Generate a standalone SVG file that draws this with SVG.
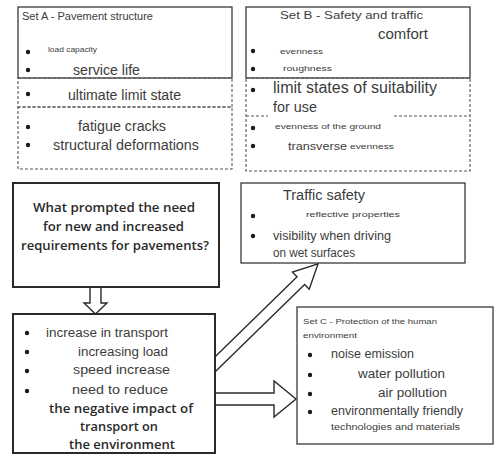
<svg xmlns="http://www.w3.org/2000/svg" width="497" height="456" viewBox="0 0 497 456">
<style>
.box{fill:#fff;stroke:#3a3a3a;stroke-width:1.3}
.thick{fill:#fff;stroke:#2a2a2a;stroke-width:2}
.dash{fill:none;stroke:#555;stroke-width:1.1;stroke-dasharray:3 2}
.t{font-family:"Liberation Sans",Arial,sans-serif;fill:#3c3c3c}
.c{font-family:"Open Sans","Liberation Sans",sans-serif;font-weight:600;fill:#2a2a2a}
.b{fill:#1a1a1a}
.arr{fill:#fff;stroke:#2a2a2a;stroke-width:1.4;stroke-linejoin:miter}
</style>
<rect width="497" height="456" fill="#fff"/>
<g id="connectors">
<polygon class="arr" points="90,280 101,280 101,303 107,303 95.5,314 84,303 90,303"/>
<polygon class="arr" transform="translate(203.5,375.7) rotate(-44.3)" points="0,-5.4 136,-5.4 136,-12 160,0 136,12 136,5.4 0,5.4"/>
<polygon class="arr" points="205,393 274,393 274,381 296,399 274,417 274,405 205,405"/>
</g>
<g id="setA">
<rect class="box" x="18" y="7" width="214" height="71"/>
<text class="t" x="22" y="20" font-size="10" textLength="131" lengthAdjust="spacingAndGlyphs">Set A - Pavement structure</text>
<circle class="b" cx="28" cy="52" r="2.2"/>
<text class="t" x="48" y="52" font-size="6.5" textLength="49" lengthAdjust="spacingAndGlyphs">load capacity</text>
<circle class="b" cx="28" cy="70" r="2.2"/>
<text class="t" x="73" y="75" font-size="14" textLength="67" lengthAdjust="spacingAndGlyphs">service life</text>
</g>
<g id="setA-ultimate">
<rect class="dash" x="18" y="78" width="214" height="29"/>
<circle class="b" cx="28" cy="94" r="2.2"/>
<text class="t" x="68" y="99.5" font-size="14" textLength="113" lengthAdjust="spacingAndGlyphs">ultimate limit state</text>
</g>
<g id="setA-fatigue">
<rect class="dash" x="18" y="107" width="214" height="62"/>
<circle class="b" cx="28" cy="127" r="2.2"/>
<text class="t" x="78" y="131" font-size="14" textLength="88" lengthAdjust="spacingAndGlyphs">fatigue cracks</text>
<circle class="b" cx="28" cy="145" r="2.2"/>
<text class="t" x="53" y="150" font-size="14" textLength="146" lengthAdjust="spacingAndGlyphs">structural deformations</text>
</g>
<g id="setB">
<rect class="box" x="246" y="7" width="224" height="71"/>
<text class="t" x="280" y="19" font-size="10.5" textLength="143" lengthAdjust="spacingAndGlyphs">Set B - Safety and traffic</text>
<text class="t" x="378" y="39" font-size="14" textLength="50" lengthAdjust="spacingAndGlyphs">comfort</text>
<circle class="b" cx="253" cy="51" r="2.2"/>
<text class="t" x="280" y="54" font-size="7" textLength="43" lengthAdjust="spacingAndGlyphs">evenness</text>
<circle class="b" cx="253" cy="69" r="2.2"/>
<text class="t" x="283" y="71" font-size="7" textLength="49" lengthAdjust="spacingAndGlyphs">roughness</text>
</g>
<g id="setB-suitability">
<rect class="dash" x="246" y="78" width="224" height="93"/>
<line class="dash" x1="246" y1="116" x2="268" y2="116"/>
<line class="dash" x1="394" y1="116" x2="470" y2="116"/>
<circle class="b" cx="253" cy="90" r="2.2"/>
<text class="t" x="273" y="93" font-size="16" textLength="164" lengthAdjust="spacingAndGlyphs">limit states of suitability</text>
<text class="t" x="273" y="112" font-size="15" textLength="44" lengthAdjust="spacingAndGlyphs">for use</text>
</g>
<g id="setB-evenness">
<circle class="b" cx="253" cy="128" r="2.2"/>
<text class="t" x="275" y="129" font-size="7.5" textLength="106" lengthAdjust="spacingAndGlyphs">evenness of the ground</text>
<circle class="b" cx="253" cy="146" r="2.2"/>
<text class="t" x="288" y="150" font-size="11" textLength="59" lengthAdjust="spacingAndGlyphs">transverse</text>
<text class="t" x="350" y="149" font-size="7" textLength="44" lengthAdjust="spacingAndGlyphs">evenness</text>
</g>
<g id="question">
<rect class="thick" x="13" y="183" width="206" height="104"/>
<text class="c" x="33" y="212" font-size="12.5" textLength="162" lengthAdjust="spacingAndGlyphs">What prompted the need</text>
<text class="c" x="43" y="231" font-size="12.5" textLength="141" lengthAdjust="spacingAndGlyphs">for new and increased</text>
<text class="c" x="21" y="250" font-size="12.5" textLength="188" lengthAdjust="spacingAndGlyphs">requirements for pavements?</text>
</g>
<g id="causes">
<rect class="thick" x="13" y="314" width="202" height="139"/>
<circle class="b" cx="27" cy="333" r="2.2"/>
<text class="t" x="46" y="337" font-size="12" textLength="122" lengthAdjust="spacingAndGlyphs">increase in transport</text>
<circle class="b" cx="27" cy="352" r="2.2"/>
<text class="t" x="78" y="356" font-size="12" textLength="90" lengthAdjust="spacingAndGlyphs">increasing load</text>
<circle class="b" cx="27" cy="371" r="2.2"/>
<text class="t" x="73" y="374" font-size="12" textLength="97" lengthAdjust="spacingAndGlyphs">speed increase</text>
<circle class="b" cx="27" cy="391" r="2.2"/>
<text class="t" x="72" y="394" font-size="12" textLength="96" lengthAdjust="spacingAndGlyphs">need to reduce</text>
<text class="c" x="49" y="413" font-size="12.5" textLength="144" lengthAdjust="spacingAndGlyphs">the negative impact of</text>
<text class="c" x="80" y="431" font-size="12.5" textLength="78" lengthAdjust="spacingAndGlyphs">transport on</text>
<text class="c" x="69" y="449" font-size="12.5" textLength="106" lengthAdjust="spacingAndGlyphs">the environment</text>
</g>
<g id="traffic-safety">
<rect class="box" x="241" y="183" width="224" height="80"/>
<text class="t" x="283" y="200" font-size="14" textLength="82" lengthAdjust="spacingAndGlyphs">Traffic safety</text>
<circle class="b" cx="253" cy="216" r="2.2"/>
<text class="t" x="306" y="217" font-size="7.5" textLength="94" lengthAdjust="spacingAndGlyphs">reflective properties</text>
<circle class="b" cx="253" cy="236" r="2.2"/>
<text class="t" x="273" y="240" font-size="12" textLength="118" lengthAdjust="spacingAndGlyphs">visibility when driving</text>
<text class="t" x="273" y="257" font-size="12" textLength="82" lengthAdjust="spacingAndGlyphs">on wet surfaces</text>
</g>
<g id="setC">
<rect class="box" x="297" y="307" width="196" height="137"/>
<text class="t" x="303" y="324" font-size="7.5" textLength="134" lengthAdjust="spacingAndGlyphs">Set C - Protection of the human</text>
<text class="t" x="303" y="338" font-size="7.5" textLength="54" lengthAdjust="spacingAndGlyphs">environment</text>
<circle class="b" cx="310" cy="355" r="2.2"/>
<text class="t" x="331" y="358" font-size="12" textLength="83" lengthAdjust="spacingAndGlyphs">noise emission</text>
<circle class="b" cx="310" cy="375" r="2.2"/>
<text class="t" x="358" y="378" font-size="12" textLength="87" lengthAdjust="spacingAndGlyphs">water pollution</text>
<circle class="b" cx="310" cy="394" r="2.2"/>
<text class="t" x="378" y="397" font-size="12" textLength="69" lengthAdjust="spacingAndGlyphs">air pollution</text>
<circle class="b" cx="310" cy="412" r="2.2"/>
<text class="t" x="331" y="415" font-size="12" textLength="132" lengthAdjust="spacingAndGlyphs">environmentally friendly</text>
<text class="t" x="331" y="430" font-size="8.5" textLength="129" lengthAdjust="spacingAndGlyphs">technologies and materials</text>
</g>
</svg>
